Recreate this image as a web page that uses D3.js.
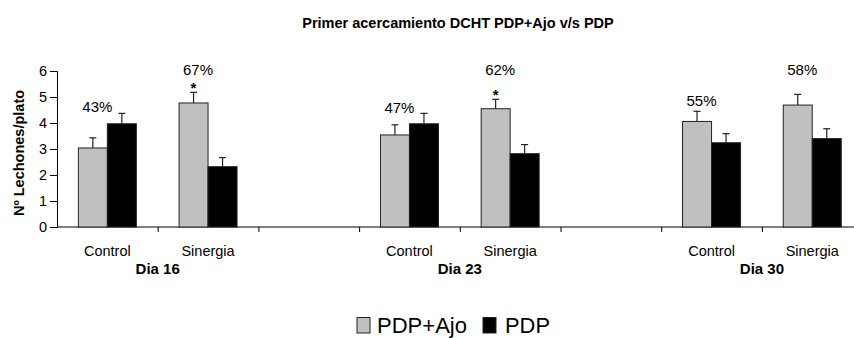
<!DOCTYPE html>
<html>
<head>
<meta charset="utf-8">
<script src="https://cdn.jsdelivr.net/npm/d3@7"></script>
<style>
  html, body { margin: 0; padding: 0; background: #fff; }
  svg { display: block; font-family: "Liberation Sans", Arial, Helvetica, sans-serif; }
</style>
</head>
<body>
<svg id="chart" width="854" height="338"></svg>
<script>
// ---- data ----
const title = "Primer acercamiento DCHT PDP+Ajo v/s PDP";
const yLabel = "Nº Lechones/plato";
const groups = ["Dia 16", "Dia 23", "Dia 30"];
const treatments = ["Control", "Sinergia"];
const series = ["PDP+Ajo", "PDP"];
// order: Dia16 Control, Dia16 Sinergia, Dia23 Control, Dia23 Sinergia, Dia30 Control, Dia30 Sinergia
const ajoValues = [3.04, 4.77, 3.54, 4.55, 4.06, 4.69];
const ajoErrors = [0.39, 0.41, 0.39, 0.36, 0.39, 0.41];
const pdpValues = [3.97, 2.32, 3.97, 2.82, 3.24, 3.40];
const pdpErrors = [0.40, 0.35, 0.40, 0.35, 0.35, 0.38];
const pctLabels = ["43%", "67%", "47%", "62%", "55%", "58%"];
const pctLevels = [4.42, 5.85, 4.40, 5.85, 4.65, 5.85];
const significance = ["", "*", "", "*", "", ""];
const yTicks = [0, 1, 2, 3, 4, 5, 6];

// ---- build slots (with a spacer band between days) ----
const slots = [];
groups.forEach((g, gi) => {
  treatments.forEach((t, ti) => slots.push({key: g + "|" + t, group: g, treat: t, i: gi * 2 + ti}));
  if (gi < groups.length - 1) slots.push({key: "gap" + gi, spacer: true});
});
const items = slots.filter(s => !s.spacer);

const svg = d3.select("#chart");
const fill = {"PDP+Ajo": "#c0c0c0", "PDP": "#000000"};

const x = d3.scaleBand().domain(slots.map(s => s.key)).range([57, 862.6]).padding(0);
const bw = x.bandwidth();
const x1 = d3.scaleBand().domain(series).range([bw / 2 - 29, bw / 2 + 29]).padding(0);
const y = d3.scaleLinear().domain([0, 6]).range([227, 71]);

// title
svg.append("text").attr("x", 458).attr("y", 27.5).attr("text-anchor", "middle")
  .attr("font-size", 14.5).attr("font-weight", "bold").text(title);

// y label
svg.append("text").attr("transform", "translate(24,153) rotate(-90)")
  .attr("text-anchor", "middle").attr("font-size", 14.5).attr("font-weight", "bold").text(yLabel);

// y axis
const yAxis = svg.append("g").attr("transform", "translate(57,0)")
  .call(d3.axisLeft(y).tickValues(yTicks).tickSize(7).tickPadding(3).tickFormat(d3.format("d")));
yAxis.selectAll("text").attr("font-size", 14.5).attr("fill", "#000");
yAxis.selectAll("line, path").attr("stroke", "#000");

// x axis (ticks at band boundaries, no labels)
const bounds = slots.map(s => x(s.key)).slice(1);
const xAxisScale = d3.scaleLinear().domain([57, 862.6]).range([57, 862.6]);
const xAxis = svg.append("g").attr("transform", "translate(0,227)")
  .call(d3.axisBottom(xAxisScale).tickValues(bounds).tickSize(5).tickFormat(""));
xAxis.select(".domain").attr("d", "M57,0H862.6");
xAxis.selectAll("line, path").attr("stroke", "#000");

// bars
const rows = items.map(s => ({
  s,
  vals: [
    {name: "PDP+Ajo", v: ajoValues[s.i], e: ajoErrors[s.i]},
    {name: "PDP", v: pdpValues[s.i], e: pdpErrors[s.i]}
  ]
}));
const gItems = svg.append("g").selectAll("g").data(rows).join("g")
  .attr("transform", d => `translate(${x(d.s.key)},0)`);

gItems.selectAll("rect").data(d => d.vals).join("rect")
  .attr("x", d => x1(d.name)).attr("width", x1.bandwidth())
  .attr("y", d => y(d.v)).attr("height", d => y(0) - y(d.v))
  .attr("fill", d => fill[d.name]).attr("stroke", "#222").attr("stroke-width", 1);

// error bars (upper only)
const eg = gItems.selectAll("g.err").data(d => d.vals).join("g").attr("class", "err");
eg.append("line")
  .attr("x1", d => x1(d.name) + x1.bandwidth() / 2).attr("x2", d => x1(d.name) + x1.bandwidth() / 2)
  .attr("y1", d => y(d.v)).attr("y2", d => y(d.v + d.e)).attr("stroke", "#222").attr("stroke-width", 1.2);
eg.append("line")
  .attr("x1", d => x1(d.name) + x1.bandwidth() / 2 - 3.5).attr("x2", d => x1(d.name) + x1.bandwidth() / 2 + 3.5)
  .attr("y1", d => y(d.v + d.e)).attr("y2", d => y(d.v + d.e)).attr("stroke", "#222").attr("stroke-width", 1.2);

// percent labels
gItems.append("text")
  .attr("x", x1("PDP+Ajo") + x1.bandwidth() / 2 + 4.5)
  .attr("y", d => y(pctLevels[d.s.i]))
  .attr("text-anchor", "middle").attr("font-size", 15).text(d => pctLabels[d.s.i]);

// significance stars
gItems.filter(d => significance[d.s.i]).append("text")
  .attr("x", x1("PDP+Ajo") + x1.bandwidth() / 2)
  .attr("y", d => y(ajoValues[d.s.i] + ajoErrors[d.s.i]) + 0.5)
  .attr("text-anchor", "middle").attr("font-size", 15).attr("font-weight", "bold")
  .text(d => significance[d.s.i]);

// category labels
gItems.append("text").attr("x", bw / 2).attr("y", 256).attr("text-anchor", "middle")
  .attr("font-size", 14.5).text(d => d.s.treat);

// group labels
groups.forEach(g => {
  const cx = x(g + "|" + treatments[1]);
  svg.append("text").attr("x", cx).attr("y", 274).attr("text-anchor", "middle")
    .attr("font-size", 15).attr("font-weight", "bold").text(g);
});

// legend
const legend = [
  {name: series[0], bx: 357, tx: 377, tw: 90},
  {name: series[1], bx: 483, tx: 505, tw: 45}
];
const lg = svg.append("g").selectAll("g").data(legend).join("g");
lg.append("rect").attr("x", d => d.bx).attr("y", 317.5).attr("width", 13).attr("height", 15.5)
  .attr("fill", d => fill[d.name]).attr("stroke", "#222").attr("stroke-width", 1);
lg.append("text").attr("x", d => d.tx).attr("y", 333).attr("font-size", 22)
  .attr("textLength", d => d.tw).attr("lengthAdjust", "spacingAndGlyphs").text(d => d.name);
</script>
</body>
</html>
